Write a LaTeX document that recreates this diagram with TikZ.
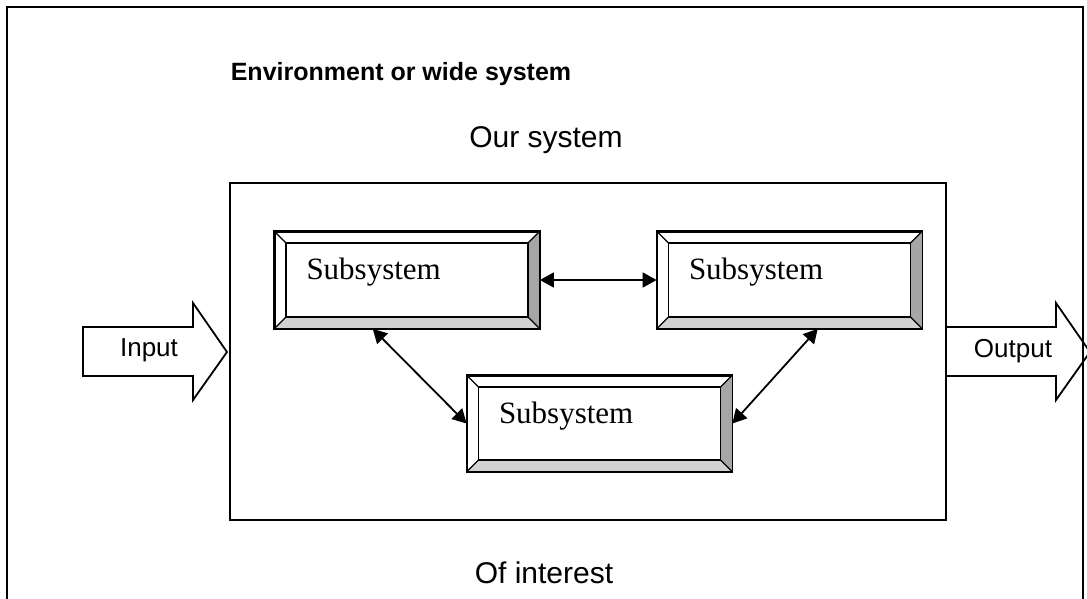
\documentclass[tikz,border=0pt]{standalone}
\usepackage{fontspec}
\setmainfont{Liberation Sans}
\newfontfamily\boxfont{Liberation Serif}
\usetikzlibrary{arrows.meta,calc}

\tikzset{
  sansbig/.style={font=\fontsize{26}{30}\selectfont},
  sanshuge/.style={font=\fontsize{30}{34}\selectfont},
  subsys/.style={draw, line width=1.8pt, minimum width=264pt, minimum height=96pt,
    text width=201pt, inner xsep=31pt, align=left, text depth=22pt,
    font=\boxfont\fontsize{31}{36}\selectfont},
  link/.style={line width=1.8pt, {Triangle[length=14pt,width=15pt]}-{Triangle[length=14pt,width=15pt]}},
  fatarrow/.style={draw, line width=1.8pt, line join=miter}
}

% bevel of a subsystem box
\newcommand{\subbevel}[1]{%
  \fill[gray!70] (#1.north east) -- (#1.south east) -- ++(-12,-12) -- ($(#1.north east)+(-12,12)$) -- cycle;
  \fill[gray!35] (#1.south west) -- (#1.south east) -- ++(-12,-12) -- ($(#1.south west)+(12,-12)$) -- cycle;
  \draw[line width=1.4pt] ($(#1.north west)+(12,12)$) rectangle ($(#1.south east)+(-12,-12)$);
  \draw[line width=1.1pt] (#1.north west) -- ++(12,12) (#1.north east) -- ++(-12,12)
    (#1.south west) -- ++(12,-12) (#1.south east) -- ++(-12,-12);
  \draw[line width=1.8pt] (#1.north west) rectangle (#1.south east);
}

\begin{document}
\begin{tikzpicture}[x=1pt,y=-1pt]
  \useasboundingbox (0,0) rectangle (1087,599);

  % Окружение
  \draw[line width=1.8pt] (7,640) -- (7,7) -- (1083,7) -- (1083,640);
  \node[font=\bfseries\fontsize{25}{29}\selectfont] (env) at (401,74) {Environment or wide system};

  % Наша система
  \node[sanshuge] (our) at (546,140) {Our system};
  \draw[line width=1.8pt] (230,183) rectangle (946,520);
  \node[sanshuge] (interest) at (544,573) {Of interest};

  % Подсистемы
  \node[subsys] (s1) at (407,280) {Subsystem};
  \node[subsys] (s2) at (789.5,280) {Subsystem};
  \node[subsys, minimum height=95pt] (s3) at (599.5,423.5) {Subsystem};
  \subbevel{s1}
  \subbevel{s2}
  \subbevel{s3}

  % Связи
  \draw[link] (s1.east) -- (s2.west);
  \draw[link] (s1.235) -- (s3.west);
  \draw[link] (s2.300) -- (s3.east);

  % Вход и выход
  \draw[fatarrow] (83,327) -- (193,327) -- (193,303) -- (227,352) -- (193,400) -- (193,376) -- (83,376) -- cycle;
  \node[sansbig] (input) at (149,350) {Input};
  \draw[fatarrow] (947,327) -- (1056,327) -- (1056,303) -- (1090,352) -- (1056,400) -- (1056,376) -- (947,376);
  \node[sansbig] (output) at (1013,351) {Output};
\end{tikzpicture}
\end{document}
